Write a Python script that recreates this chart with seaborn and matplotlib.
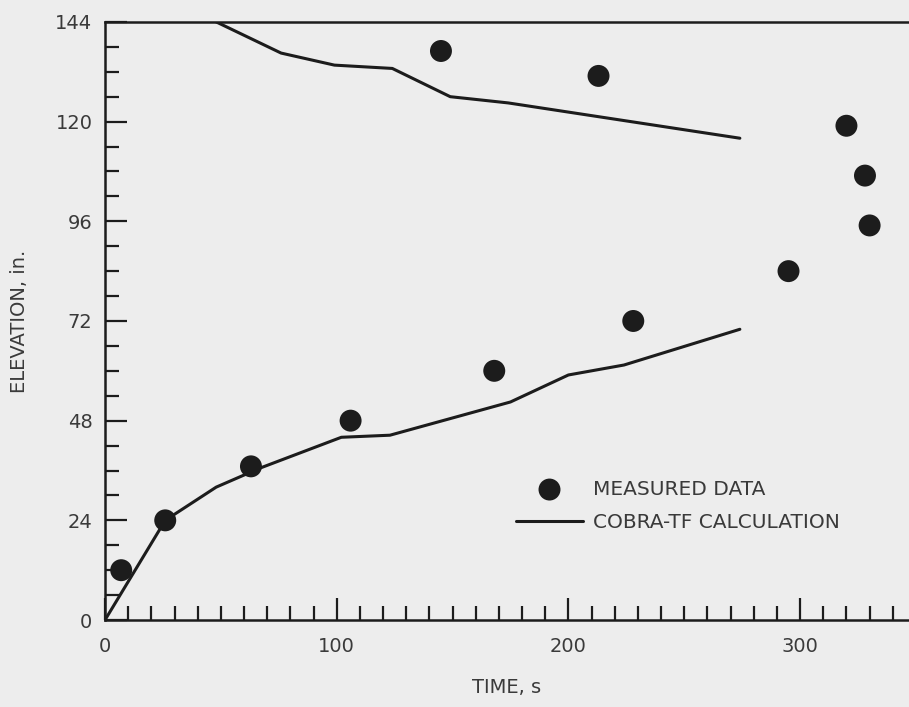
import pandas as pd
import seaborn as sns
import matplotlib.pyplot as plt
from matplotlib.ticker import MultipleLocator


# Measured data (time in s, elevation in in.)
meas_time = [7, 26, 63, 106, 145, 168, 213, 228, 295, 320, 328, 330]
meas_elev = [12, 24, 37, 48, 137, 60, 131, 72, 84, 119, 107, 95]

# COBRA-TF calculation, lower front (quench front from bottom)
calc_lo_time = [0, 26, 48, 67, 102, 123, 175, 200, 224, 274]
calc_lo_elev = [0, 24, 32, 36.6, 44, 44.5, 52.5, 59, 61.4, 70]

# COBRA-TF calculation, upper front (from top)
calc_hi_time = [48, 76, 99, 124, 149, 174, 274]
calc_hi_elev = [144, 136.5, 133.6, 132.8, 126, 124.5, 116]

y_ticks = [0, 24, 48, 72, 96, 120, 144]
x_ticks = [0, 100, 200, 300]

df_meas = pd.DataFrame({'time': meas_time, 'elev': meas_elev})
df_lo = pd.DataFrame({'time': calc_lo_time, 'elev': calc_lo_elev})
df_hi = pd.DataFrame({'time': calc_hi_time, 'elev': calc_hi_elev})


sns.set_style('ticks')
plt.rcParams['font.family'] = ['DejaVu Sans']
ink = '#1c1c1c'
txt = '#3a3a3a'
bg = '#ededed'

fig = plt.figure(figsize=(9.09, 7.07), dpi=100, facecolor=bg)
ax = fig.add_axes([0.1155, 0.123, 0.8845, 0.846])
ax.set_facecolor(bg)

# Draw the calculation lines and the measured points
sns.lineplot(data=df_lo, x='time', y='elev', sort=False, estimator=None,
             color=ink, linewidth=2.2, ax=ax, label='COBRA-TF CALCULATION')
sns.lineplot(data=df_hi, x='time', y='elev', sort=False, estimator=None,
             color=ink, linewidth=2.2, ax=ax)
sns.scatterplot(data=df_meas, x='time', y='elev', s=250, color=ink,
                edgecolor='none', ax=ax, label='MEASURED DATA', zorder=3)

ax.set_xlim(0, 347)
ax.set_ylim(0, 144)
ax.set_xticks(x_ticks)
ax.set_yticks(y_ticks)
ax.xaxis.set_minor_locator(MultipleLocator(10))
ax.yaxis.set_minor_locator(MultipleLocator(6))

ax.tick_params(axis='both', which='major', direction='in', length=16,
               width=1.6, color=ink, labelcolor=txt, labelsize=14)
ax.tick_params(axis='both', which='minor', direction='in', length=10,
               width=1.6, color=ink)
ax.tick_params(axis='y', which='major', pad=9)
ax.tick_params(axis='x', which='major', pad=12)

for side in ['left', 'bottom', 'top']:
    ax.spines[side].set_color(ink)
    ax.spines[side].set_linewidth(1.8)
ax.spines['right'].set_visible(False)

ax.set_xlabel('TIME, s', fontsize=14, color=txt, labelpad=16)
ax.set_ylabel('ELEVATION, in.', fontsize=14, color=txt, labelpad=19)

# Legend: measured first, then calculation
handles, labels = ax.get_legend_handles_labels()
order = [labels.index('MEASURED DATA'), labels.index('COBRA-TF CALCULATION')]
ax.legend([handles[i] for i in order], [labels[i] for i in order],
          frameon=False, fontsize=14.5, labelcolor=txt, handlelength=3.3,
          handletextpad=0.5, labelspacing=0.7, markerscale=1.0,
          loc='lower left', bbox_to_anchor=(0.489, 0.117))

fig.savefig('out.png', dpi=100, facecolor=bg)
